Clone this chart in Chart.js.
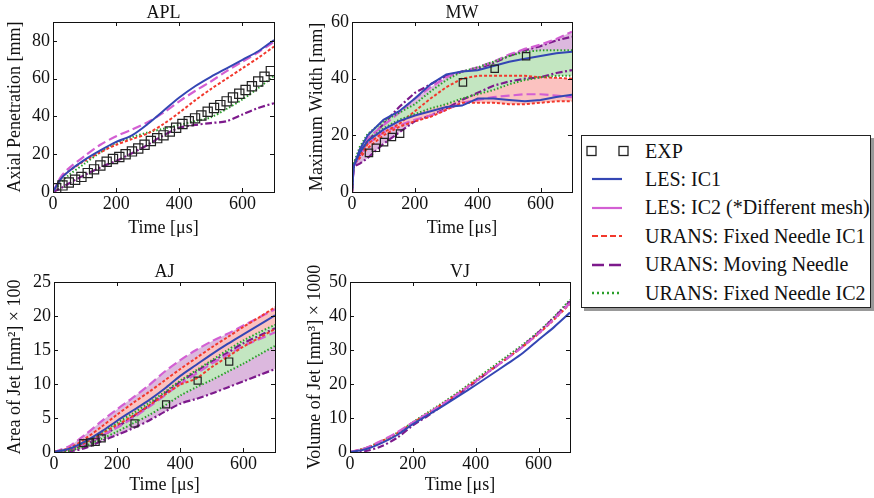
<!DOCTYPE html>
<html>
<head>
<meta charset="utf-8">
<script src="https://cdn.jsdelivr.net/npm/chart.js@4.4.1/dist/chart.umd.min.js"></script>
<style>
  body { margin: 0; background: #fff; width: 874px; height: 498px; position: relative; overflow: hidden; font-family: 'Liberation Serif', 'Times New Roman', serif; color: #111; }
  canvas { position: absolute; }
  #legend { position: absolute; left: 581px; top: 135px; width: 288px; height: 171px; border: 1px solid #222; box-shadow: 3px 3px 0 #999; background: #fff; }
  #legend .row { position: absolute; left: 0; height: 28px; display: flex; align-items: center; font-size: 20px; white-space: nowrap; }
  #legend svg { position: absolute; left: 3px; }
  #legend span { position: absolute; left: 63px; }
</style>
</head>
<body>
<canvas id="apl" width="290" height="240" style="left:0;top:0"></canvas>
<canvas id="mw" width="290" height="240" style="left:290px;top:0"></canvas>
<canvas id="aj" width="290" height="258" style="left:0;top:240px"></canvas>
<canvas id="vj" width="290" height="258" style="left:290px;top:240px"></canvas>
<div id="legend"></div>
<script>
// ---- data ----
const timeTicks = [0, 200, 400, 600];
const aplTicks = [0, 20, 40, 60, 80];
const mwTicks = [0, 20, 40, 60];
const ajTicks = [0, 5, 10, 15, 20, 25];
const vjTicks = [0, 10, 20, 30, 40, 50];

// APL
const aplTime = [0, 25, 50, 100, 150, 200, 250, 300, 350, 400, 450, 500, 550, 600, 650, 700];
const aplLes1 = [0, 7, 11, 17, 22, 26.5, 30, 36, 43, 50, 56, 61, 65.5, 70, 74.5, 80.5];
const aplLes2 = [0, 8, 12.5, 19, 25, 29.5, 33, 37, 42, 48, 53.5, 58.5, 64, 69, 74, 79.5];
const aplFix1 = [0, 7, 11, 16.5, 21, 25, 28, 31, 36, 42, 48.5, 54.5, 60, 65.5, 71, 77];
const aplMove = [0, 2, 4.5, 9, 13, 16.5, 20.5, 25, 30, 34, 35.5, 36.5, 37.5, 41, 44.5, 47];
const aplFix2 = [0, 5, 9, 15, 21, 26, 29, 31.5, 33.5, 35.5, 37.5, 39.5, 44, 49, 55, 61.5];
const aplExpTime = [10, 30, 50, 70, 90, 110, 130, 150, 170, 190, 210, 230, 250, 270, 290, 310, 330, 350, 370, 390, 410, 430, 450, 470, 490, 510, 530, 550, 570, 590, 610, 630, 650, 670, 690];
const aplExp = [2, 3.5, 5, 6.5, 8, 10, 12, 14, 16, 17.5, 18.5, 20, 21.5, 23, 25, 27, 28.5, 30, 32, 34, 36, 37.5, 39, 40.5, 42.5, 44.5, 46, 48, 50, 52, 54, 56, 58.5, 61, 64];

// MW (upper / lower bounds)
const mwTime = [0, 5, 25, 50, 100, 150, 200, 250, 300, 350, 400, 450, 500, 550, 600, 650, 700];
const mwLes1Up = [0, 9, 15, 20, 25.5, 28.5, 33, 38, 41.5, 42.5, 43, 44.5, 46, 47, 48, 49, 49.5];
const mwLes1Lo = [0, 9, 14, 18, 22, 25, 27, 28.5, 30, 30.5, 33, 33, 32.5, 32, 32.5, 33.5, 34.3];
const mwLes2Up = [0, 9, 15, 19, 23.5, 28, 33, 37, 40.5, 42.5, 44, 46, 48.5, 50.5, 52, 54, 56.6];
const mwLes2Lo = [0, 9, 13, 17, 21, 23.5, 25.5, 27, 29, 31.5, 32.5, 33.5, 34, 34.5, 34.5, 34, 33.5];
const mwFix1Up = [0, 10, 13, 17, 21, 24, 28.5, 33, 37, 40, 41, 41, 41, 41, 40.5, 40.3, 40];
const mwFix1Lo = [0, 10, 12, 15.5, 20, 23, 25, 26.5, 29, 31.5, 31.5, 31.5, 31, 31, 31.5, 32, 32];
const mwMoveUp = [0, 9, 13, 18, 24, 30, 35, 38, 41, 42.5, 43.5, 45.5, 48, 50, 51.5, 53.5, 54.8];
const mwMoveLo = [0, 9, 10, 12, 17, 21, 25, 27, 29.5, 32.5, 35, 37.5, 39, 40, 40.5, 42, 43];
const mwFix2Up = [0, 10, 16, 20.5, 25, 28, 31, 35.5, 39.5, 42.5, 44, 46, 48, 49.5, 50, 50, 50];
const mwFix2Lo = [0, 10, 14, 18, 22.5, 25.5, 27.5, 29.5, 31, 33, 34.5, 36, 38, 39.5, 40.5, 41, 41];
const mwExpTime = [54, 76, 102, 127, 153, 353, 454, 554];
const mwExp = [13.8, 15.6, 17.6, 19.4, 20.6, 38.7, 43.5, 47.9];

// AJ
const ajTime = [0, 50, 100, 150, 200, 250, 300, 350, 400, 450, 500, 550, 600, 650, 700];
const ajLes1 = [0, 0.5, 1.6, 3, 4.6, 6.1, 7.6, 9.3, 11.2, 12.8, 14.4, 15.9, 17.3, 18.7, 20.1];
const ajLes2Up = [0, 0.9, 2.6, 4.5, 6.3, 8, 9.8, 11.8, 13.5, 15, 16.3, 17.4, 18.6, 19.8, 21];
const ajLes2Lo = [0, 0.4, 1.2, 2.4, 3.6, 5, 6.6, 8.3, 10, 11.5, 13, 14.3, 15.6, 16.6, 17.6];
const ajFix1Up = [0, 0.6, 2, 3.7, 5.5, 7.2, 8.8, 10.5, 12.2, 13.8, 15.4, 16.9, 18.4, 19.8, 21.3];
const ajFix1Lo = [0, 0.4, 1.4, 2.7, 4, 5.3, 6.8, 8.4, 9.9, 10.8, 12.5, 14, 15.5, 16.8, 18.1];
const ajMoveUp = [0, 0.3, 1.1, 2.3, 3.7, 5.2, 6.8, 8.6, 10.3, 11.8, 13.3, 14.6, 16, 17.1, 18.2];
const ajMoveLo = [0, 0.1, 0.6, 1.6, 2.5, 3.5, 4.6, 5.9, 7.1, 7.8, 8.6, 9.5, 10.4, 11.3, 12.2];
const ajFix2Up = [0, 0.5, 1.5, 2.9, 4.3, 5.7, 7.2, 8.8, 10.5, 12, 13.5, 15, 16.4, 17.6, 18.7];
const ajFix2Lo = [0, 0.2, 0.9, 1.9, 3, 4.2, 5.4, 6.8, 8.3, 9.5, 10.6, 11.8, 13, 14.3, 15.6];
const ajExpTime = [93, 114, 132, 151, 255, 355, 455, 555];
const ajExp = [1.3, 1.4, 1.5, 2.0, 4.2, 7.0, 10.5, 13.3];

// VJ
const vjTime = [0, 50, 100, 150, 200, 250, 300, 350, 400, 450, 500, 550, 600, 650, 700];
const vjLes1 = [0, 0.8, 2.6, 5, 8.2, 11, 13.8, 16.7, 19.7, 22.8, 25.9, 29.1, 33, 36.8, 41];
const vjLes2 = [0, 1.2, 3.3, 5.8, 8.7, 11.5, 14.4, 17.5, 20.8, 24.2, 27.5, 31, 34.9, 39.2, 43.8];
const vjFix1 = [0, 1.1, 3.1, 5.5, 8.6, 11.5, 14.5, 17.6, 21, 24.3, 27.6, 31, 34.8, 39, 43.6];
const vjMove = [0, 0.3, 1.7, 4.2, 7.8, 10.8, 14, 17.3, 20.7, 24.2, 27.6, 31.2, 35.2, 39.6, 44.3];
const vjFix2 = [0, 1.2, 3.2, 5.6, 8.8, 11.8, 14.8, 18, 21.4, 24.8, 28.2, 31.6, 35.4, 39.8, 44.8];

const legendLabels = ['EXP', 'LES: IC1', 'LES: IC2 (*Different mesh)', 'URANS: Fixed Needle IC1', 'URANS: Moving Needle', 'URANS: Fixed Needle IC2'];

// ---- styles ----
const COL = { les1: '#3446b4', les2: '#d35fd3', fix1: '#f2382c', move: '#7d1a8c', fix2: '#2a9f2a' };
const STY = {
  les1: { borderColor: COL.les1, borderWidth: 2 },
  les2: { borderColor: COL.les2, borderWidth: 2.2, borderDash: [9, 4] },
  fix1: { borderColor: COL.fix1, borderWidth: 2, borderDash: [3, 2] },
  move: { borderColor: COL.move, borderWidth: 2.2, borderDash: [7, 2.5, 2, 2.5] },
  fix2: { borderColor: COL.fix2, borderWidth: 2, borderDash: [1.5, 2] }
};
const FILL = { lilac: '#dcb8de', pink: '#fbc2c0', green: '#c3e6c1' };
const SERIF = "'Liberation Serif', 'Times New Roman', serif";

Chart.defaults.font.family = SERIF;
Chart.defaults.color = '#111';

function pts(ts, vs) {
  return ts.map((t, i) => ({ x: t, y: vs[i] }));
}
function line(ts, vs, sty, fillTo, fillColor, tension) {
  return Object.assign({
    data: pts(ts, vs), pointRadius: 0, tension: tension || 0,
    fill: fillTo === undefined ? false : { target: fillTo, above: fillColor, below: fillColor }
  }, sty);
}
function exp(ts, vs, r) {
  return { data: pts(ts, vs), showLine: false, pointStyle: 'rect', pointRadius: r,
    pointBackgroundColor: 'rgba(0,0,0,0)', pointBorderColor: '#222', pointBorderWidth: 1.2 };
}

// frame + inward ticks on all four sides, plus the rotated y title
const frameTicks = {
  id: 'frameTicks',
  afterDraw(chart, args, opts) {
    const { ctx, chartArea: a, scales: { x, y } } = chart;
    ctx.save();
    ctx.strokeStyle = '#111';
    ctx.lineWidth = 1;
    ctx.strokeRect(Math.round(a.left) + 0.5, Math.round(a.top) + 0.5, Math.round(a.right - a.left), Math.round(a.bottom - a.top));
    ctx.beginPath();
    x.ticks.forEach(t => {
      const px = Math.round(x.getPixelForValue(t.value)) + 0.5;
      ctx.moveTo(px, a.bottom); ctx.lineTo(px, a.bottom - 4);
      ctx.moveTo(px, a.top); ctx.lineTo(px, a.top + 4);
    });
    y.ticks.forEach(t => {
      const py = Math.round(y.getPixelForValue(t.value)) + 0.5;
      ctx.moveTo(a.left, py); ctx.lineTo(a.left + 4, py);
      ctx.moveTo(a.right, py); ctx.lineTo(a.right - 4, py);
    });
    ctx.stroke();
    // y axis title
    ctx.translate(opts.x, (a.top + a.bottom) / 2);
    ctx.rotate(-Math.PI / 2);
    ctx.font = '18px ' + SERIF;
    ctx.fillStyle = '#111';
    ctx.textAlign = 'center';
    ctx.textBaseline = 'middle';
    ctx.fillText(opts.text, 0, 0);
    ctx.restore();
  }
};

function makePanel(id, p) {
  return new Chart(document.getElementById(id), {
    type: 'line',
    data: { datasets: p.datasets },
    options: {
      responsive: false,
      animation: false,
      layout: { padding: { right: p.padRight } },
      plugins: {
        legend: { display: false },
        tooltip: { enabled: false },
        filler: { drawTime: 'beforeDatasetsDraw' },
        title: { display: true, text: p.title, fullSize: false, color: '#111',
          font: { size: 18, lineHeight: 1, weight: 'normal' }, padding: { top: p.titleTop, bottom: p.titleBottom } },
        frameTicks: { text: p.yTitle, x: p.yTitleX }
      },
      scales: {
        x: {
          type: 'linear', min: 0, max: 700,
          afterBuildTicks: s => { s.ticks = timeTicks.map(v => ({ value: v })); },
          afterFit: s => { s.height = p.xAxisH; },
          grid: { display: false, drawTicks: false },
          border: { display: false },
          ticks: { padding: p.xTickPad, font: { size: 18 }, color: '#111' },
          title: { display: true, text: 'Time [μs]', font: { size: 18 }, color: '#111', padding: { top: 0, bottom: p.xTitlePad } }
        },
        y: {
          type: 'linear', min: 0, max: p.yMax,
          afterBuildTicks: s => { s.ticks = p.yTicks.map(v => ({ value: v })); },
          afterFit: s => { s.width = p.yAxisW; },
          grid: { display: false, drawTicks: false },
          border: { display: false },
          ticks: { padding: 3, font: { size: 18 }, color: '#111' }
        }
      }
    },
    plugins: [frameTicks]
  });
}

makePanel('apl', {
  title: 'APL', yTitle: 'Axial Penetration [mm]', yTitleX: 15, yMax: 90, yTicks: aplTicks,
  padRight: 16, yAxisW: 53, xAxisH: 48, titleTop: 4, titleBottom: 0, xTickPad: 1, xTitlePad: 1,
  datasets: [
    exp(aplExpTime, aplExp, 6.5),
    line(aplTime, aplLes1, STY.les1, undefined, null, 0.3),
    line(aplTime, aplLes2, STY.les2, undefined, null, 0.3),
    line(aplTime, aplFix1, STY.fix1, undefined, null, 0.3),
    line(aplTime, aplMove, STY.move, undefined, null, 0.3),
    line(aplTime, aplFix2, STY.fix2, undefined, null, 0.3)
  ]
});

makePanel('mw', {
  title: 'MW', yTitle: 'Maximum Width [mm]', yTitleX: 27, yMax: 60, yTicks: mwTicks,
  padRight: 8, yAxisW: 62, xAxisH: 48, titleTop: 4, titleBottom: 0, xTickPad: 1, xTitlePad: 1,
  datasets: [
    exp(mwExpTime, mwExp, 5.2),
    line(mwTime, mwLes1Up, STY.les1),
    line(mwTime, mwLes1Lo, STY.les1),
    line(mwTime, mwFix2Up, STY.fix2, 4, FILL.green),
    line(mwTime, mwFix2Lo, STY.fix2),
    line(mwTime, mwFix1Up, STY.fix1, 6, FILL.pink),
    line(mwTime, mwFix1Lo, STY.fix1),
    line(mwTime, mwLes2Up, STY.les2, 10, FILL.lilac),
    line(mwTime, mwLes2Lo, STY.les2),
    line(mwTime, mwMoveUp, STY.move),
    line(mwTime, mwMoveLo, STY.move)
  ]
});

makePanel('aj', {
  title: 'AJ', yTitle: 'Area of Jet [mm²] × 100', yTitleX: 15, yMax: 25, yTicks: ajTicks,
  padRight: 15, yAxisW: 54, xAxisH: 46, titleTop: 23, titleBottom: 1, xTickPad: 1, xTitlePad: 2,
  datasets: [
    exp(ajExpTime, ajExp, 5),
    line(ajTime, ajLes1, STY.les1, undefined, null, 0.3),
    line(ajTime, ajFix2Up, STY.fix2, 3, FILL.green, 0.3),
    line(ajTime, ajFix2Lo, STY.fix2, undefined, null, 0.3),
    line(ajTime, ajFix1Up, STY.fix1, 5, FILL.pink, 0.3),
    line(ajTime, ajFix1Lo, STY.fix1, undefined, null, 0.3),
    line(ajTime, ajLes2Up, STY.les2, 9, FILL.lilac, 0.3),
    line(ajTime, ajLes2Lo, STY.les2, undefined, null, 0.3),
    line(ajTime, ajMoveUp, STY.move, undefined, null, 0.3),
    line(ajTime, ajMoveLo, STY.move, undefined, null, 0.3)
  ]
});

makePanel('vj', {
  title: 'VJ', yTitle: 'Volume of Jet [mm³] × 1000', yTitleX: 25, yMax: 50, yTicks: vjTicks,
  padRight: 10, yAxisW: 60, xAxisH: 46, titleTop: 23, titleBottom: 1, xTickPad: 1, xTitlePad: 2,
  datasets: [
    line(vjTime, vjLes1, STY.les1, undefined, null, 0.3),
    line(vjTime, vjLes2, STY.les2, undefined, null, 0.3),
    line(vjTime, vjFix1, STY.fix1, undefined, null, 0.3),
    line(vjTime, vjMove, STY.move, undefined, null, 0.3),
    line(vjTime, vjFix2, STY.fix2, undefined, null, 0.3)
  ]
});

// ---- legend ----
const legendSamples = [
  '<rect x="2" y="2.5" width="9" height="9" fill="none" stroke="#222" stroke-width="1.3"/><rect x="34" y="2.5" width="9" height="9" fill="none" stroke="#222" stroke-width="1.3"/>',
  `<line x1="7" y1="7" x2="37" y2="7" stroke="${COL.les1}" stroke-width="2.2"/>`,
  `<line x1="7" y1="7" x2="37" y2="7" stroke="${COL.les2}" stroke-width="2.2"/>`,
  `<line x1="7" y1="7" x2="37" y2="7" stroke="${COL.fix1}" stroke-width="2.2" stroke-dasharray="6 3"/>`,
  `<line x1="7" y1="7" x2="37" y2="7" stroke="${COL.move}" stroke-width="2.4" stroke-dasharray="12 5"/>`,
  `<line x1="7" y1="7" x2="37" y2="7" stroke="${COL.fix2}" stroke-width="2.4" stroke-dasharray="2 3"/>`
];
const legend = document.getElementById('legend');
legendLabels.forEach((lab, i) => {
  const row = document.createElement('div');
  row.className = 'row';
  row.style.top = (1 + i * 28.4) + 'px';
  row.innerHTML = `<svg width="46" height="14">${legendSamples[i]}</svg><span>${lab}</span>`;
  legend.appendChild(row);
});
</script>
</body>
</html>
